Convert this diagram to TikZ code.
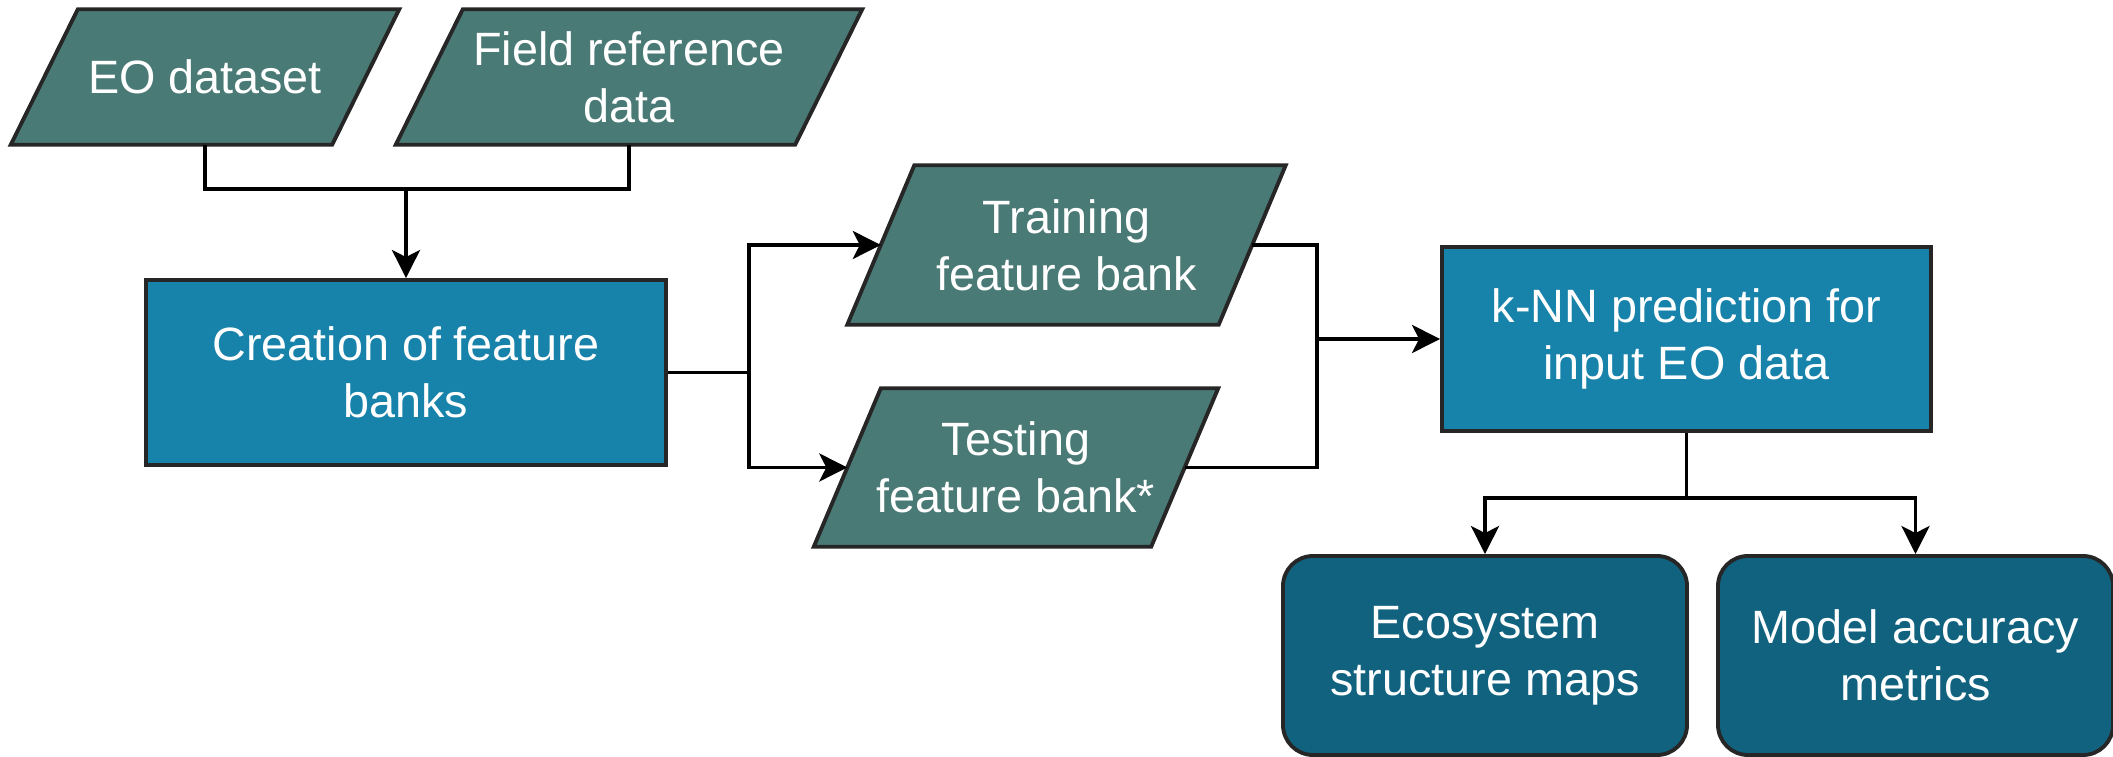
\documentclass[tikz,border=0pt]{standalone}
\usepackage{fontspec}
\setmainfont{Liberation Sans}
\usetikzlibrary{arrows.meta,positioning,backgrounds}

\definecolor{datagreen}{HTML}{4A7A75}
\definecolor{procblue}{HTML}{1782AA}
\definecolor{outblue}{HTML}{11627F}

\begin{document}
\begin{tikzpicture}[
	txt/.style={text=white, align=center, font=\fontsize{13.3}{16.2}\selectfont},
	data/.style={rectangle, inner sep=0pt, txt},
	dataframe/.style={draw=black!85, line width=1.1pt, fill=datagreen, line join=miter},
	process/.style={rectangle, draw=black!85, line width=1.1pt, fill=procblue, txt},
	result/.style={rectangle, rounded corners=0.3cm, draw=black!85, line width=1.1pt, fill=outblue, txt},
	link/.style={line width=1.1pt},
	arr/.style={link, -{Stealth[length=0.28cm, width=0.28cm, inset=0.07cm]}}
	]
	\useasboundingbox (0,0) rectangle (21.13,-7.57);
	
	% Input data
	\node[data, minimum width=3.2cm, minimum height=1.34cm] (eo) at (2.05,-0.77) {EO dataset};
	\node[data, minimum width=3.98cm, minimum height=1.34cm] (field) at (6.29,-0.77) {Field reference\\data};
	
	% Feature banks
	\node[process, minimum width=5.2cm, minimum height=1.85cm] (creation) at (4.06,-3.725) {Creation of feature\\banks};
	\node[data, minimum width=3.7cm, minimum height=1.58cm] (training) at (10.665,-2.45) {Training\\feature bank};
	\node[data, minimum width=3.36cm, minimum height=1.57cm] (testing) at (10.16,-4.675) {Testing\\feature bank*};
	
	% Slanted frames behind the data nodes
	\begin{scope}[on background layer]
		\foreach \n in {eo,field,training,testing}
			\draw[dataframe] ([xshift=-0.335cm]\n.south west) -- ([xshift=-0.335cm]\n.south east)
				-- ([xshift=0.335cm]\n.north east) -- ([xshift=0.335cm]\n.north west) -- cycle;
	\end{scope}
	
	% Prediction and outputs
	\node[process, minimum width=4.89cm, minimum height=1.84cm] (knn) at (16.865,-3.39) {k-NN prediction for\\input EO data};
	\node[result, minimum width=4.04cm, minimum height=1.99cm] (eco) at (14.85,-6.555) {Ecosystem\\structure maps};
	\node[result, minimum width=3.95cm, minimum height=1.99cm] (metrics) at (19.155,-6.555) {Model accuracy\\metrics};
	
	\coordinate (topjoin) at (4.06,-1.89);
	\coordinate (split) at (7.49,-3.725);
	\coordinate (merge) at (13.17,-3.39);
	\coordinate (outsplit) at (16.865,-4.98);
	
	\draw[link] (eo.south) |- (topjoin);
	\draw[link] (field.south) |- (topjoin);
	\draw[arr] (topjoin) -- (creation.north);
	
	\draw[link] (creation.east) -- (split);
	\draw[arr] (split) |- (training.west);
	\draw[arr] (split) |- (testing.west);
	
	\draw[link] (training.east) -| (merge);
	\draw[link] (testing.east) -| (merge);
	\draw[arr] (merge) -- (knn.west);
	
	\draw[link] (knn.south) -- (outsplit);
	\draw[arr] (outsplit) -| (eco.north);
	\draw[arr] (outsplit) -| (metrics.north);
\end{tikzpicture}
\end{document}
